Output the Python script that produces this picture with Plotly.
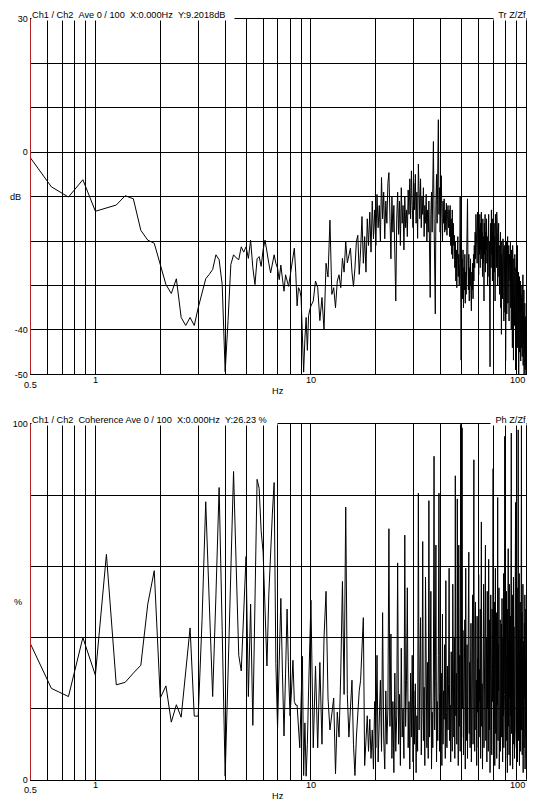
import numpy as np
import plotly.graph_objects as go

# frequency bins (Hz): fine below 10 Hz, coarser above
freq_low = np.arange(0.5, 10.0001, 0.125)
freq_high = np.arange(10.25, 100.0001, 0.25)

# transfer function magnitude, dB
tf_low = [
    -1.3, -7.8, -10.1, -6.2, -13.3, -12.6, -11.9, -9.8,
    -10.5, -17.6, -19.8, -20.5, -25.5, -29.8, -31.8, -28.5,
    -37.2, -39.0, -37.2, -39.0, -35.0, -31.5, -28.5, -27.5,
    -26.4, -23.1, -24.2, -29.8, -49.4, -37.9, -25.3, -23.1,
    -23.8, -24.2, -21.3, -22.5, -21.3, -23.9, -19.8, -26.0,
    -29.8, -24.0, -23.5, -25.7, -22.0, -19.8, -23.1, -25.0,
    -27.2, -25.0, -23.1, -25.0, -26.1, -28.7, -25.4, -28.5,
    -31.3, -27.6, -29.0, -30.2, -28.0, -25.4, -23.5, -21.6,
    -27.0, -34.6, -30.5, -31.0, -32.7, -40.0, -49.5, -42.0,
    -37.2, -44.6, -36.8, -35.5, -34.6,
]
tf_high = [
    -33.5, -29.0, -30.5, -37.9, -32.7, -40.0, -25.0, -28.1, -15.3, -32.0, -30.5, -35.0, -29.0, -27.6, -30.5, -23.9, -27.0, -20.1, -24.9, -23.0,
    -21.6, -27.0, -30.2, -26.1, -20.1, -18.7, -27.5, -22.0, -14.5, -25.0, -19.0, -27.0, -15.0, -21.0, -13.5, -22.5, -11.0, -19.5, -13.0, -21.0,
    -9.5, -17.0, -12.0, -20.0, -5.7, -15.0, -9.0, -19.5, -11.0, -16.0, -7.0, -4.6, -14.0, -24.0, -10.0, -18.0, -12.0, -26.0, -33.5, -15.0,
    -9.0, -18.5, -11.0, -21.0, -8.0, -16.0, -12.0, -22.0, -10.0, -17.0, -13.0, -19.0, -8.5, -14.0, -6.0, -15.0, -4.2, -12.0, -17.0, -7.0,
    -13.0, -5.0, -16.0, -9.0, -19.4, -2.7, -11.0, -15.0, -6.0, -17.0, -10.0, -14.0, -8.0, -19.0, -12.0, -16.0, -9.5, -20.0, -13.0, -18.0,
    -11.0, -22.0, -32.7, -14.0, -9.0, -18.0, -6.0, 2.4, -15.0, -24.0, -36.4, -12.0, -5.0, -16.0, -2.0, 7.3, -14.0, -8.0, -18.0, -10.0,
    -5.3, -15.0, -20.0, -11.0, -16.0, -10.5, -18.0, -13.0, -17.5, -11.5, -18.7, -14.0, -12.0, -17.0, -13.0, -19.0, -12.0, -21.0, -15.0, -23.0,
    -13.0, -24.0, -16.0, -21.0, -18.7, -26.0, -20.0, -29.0, -22.0, -30.5, -24.0, -19.0, -28.0, -23.0, -30.0, -25.0, -10.0, -27.0, -46.8, -30.0,
    -24.0, -33.0, -22.0, -35.0, -26.0, -31.0, -23.0, -34.0, -27.0, -32.0, -24.0, -29.0, -10.5, -25.0, -31.0, -23.0, -33.5, -26.0, -30.0, -24.0,
    -32.0, -35.7, -27.0, -31.0, -25.0, -33.0, -23.0, -29.0, -21.0, -26.0, -18.0, -24.0, -14.0, -22.0, -16.0, -25.0, -13.5, -21.0, -15.0, -27.6,
    -17.0, -23.0, -14.0, -26.0, -16.0, -22.0, -13.5, -24.0, -18.0, -28.0, -15.0, -25.0, -19.0, -33.5, -16.0, -23.0, -14.0, -27.0, -18.0, -22.0,
    -15.0, -25.0, -19.0, -30.0, -17.0, -24.0, -14.0, -28.0, -20.0, -36.0, -48.3, -22.0, -16.0, -26.0, -13.0, -23.0, -18.0, -29.0, -15.0, -24.0,
    -12.7, -21.0, -16.0, -27.0, -19.0, -33.5, -14.0, -24.0, -18.0, -26.0, -13.5, -22.0, -17.0, -30.0, -20.0, -25.0, -16.0, -28.0, -21.0, -32.0,
    -19.0, -27.0, -18.0, -35.0, -23.0, -41.0, -20.0, -30.0, -24.0, -33.0, -19.5, -28.0, -22.0, -38.0, -25.0, -31.0, -21.0, -36.0, -26.0, -47.0,
    -24.0, -30.0, -20.0, -36.4, -22.0, -29.0, -19.0, -34.0, -25.0, -31.0, -21.0, -38.0, -23.0, -33.0, -26.0, -29.0, -20.0, -35.0, -24.0, -40.0,
    -22.0, -33.0, -26.0, -44.0, -21.0, -36.0, -28.0, -46.8, -24.0, -34.0, -27.0, -39.0, -23.0, -37.0, -30.0, -49.0, -26.0, -35.0, -29.0, -42.0,
    -25.0, -38.0, -21.0, -44.0, -30.0, -36.0, -27.0, -50.0, -31.0, -40.0, -28.0, -45.0, -33.0, -38.0, -29.0, -47.0, -32.0, -41.0, -34.0, -44.0,
    -30.0, -46.0, -33.0, -39.0, -27.6, -48.0, -36.0, -43.0, -31.0, -50.0, -38.0, -45.0, -34.0, -49.0, -37.0, -47.0, -40.0, -50.0, -42.0, -48.0,
]

# coherence, %
coh_low = [
    38.2, 25.7, 23.4, 40.0, 29.4, 63.4, 26.7, 27.4,
    30.0, 32.2, 49.4, 58.8, 23.0, 26.4, 16.2, 21.1,
    17.6, 30.0, 42.7, 17.9, 17.9, 45.0, 78.2, 50.0,
    23.4, 52.0, 82.2, 42.0, 1.0, 30.0, 60.0, 86.7,
    60.0, 35.0, 30.6, 45.0, 62.8, 23.4, 49.4, 15.3,
    50.0, 84.5, 82.0, 70.0, 64.0, 45.0, 32.0, 52.0,
    65.0, 75.0, 83.6, 32.7, 14.6, 35.0, 51.0, 30.0,
    12.3, 30.0, 48.0, 30.0, 18.0, 25.0, 33.6, 22.0,
    21.0, 21.0, 15.0, 9.0, 22.0, 34.7, 1.2, 16.0,
    1.0, 10.0, 25.0, 38.0, 50.5,
]
coh_high = [
    9, 32, 9, 33, 10, 40, 53, 23, 14, 18, 23, 1.7, 19, 12, 30, 55.8, 24, 76.7, 24, 12,
    20, 28, 10, 1.2, 12, 20, 25, 28, 35, 45.6, 4, 12, 18, 8, 17, 6, 14, 3, 22, 9,
    35, 5, 18, 28, 8, 47, 12, 3, 25, 10, 20, 70.6, 15, 41, 6, 22, 2, 30, 8, 18,
    61, 10, 24, 4, 37, 12, 20, 6, 68.8, 15, 28, 54, 9, 22, 3, 30, 12, 35, 5, 25,
    10, 27, 2, 18, 8, 80.6, 14, 30, 45.6, 7, 20, 67, 11, 26, 4, 57, 16, 9, 33, 6,
    78.5, 12, 25, 53, 3, 19, 9, 30, 91, 14, 28, 66, 5, 22, 11, 35, 80.6, 8, 24, 13,
    30, 4, 46.6, 10, 25, 17, 38, 6, 56, 19, 9, 32, 14, 27, 59.5, 11, 21, 5, 36, 16,
    8, 55, 22, 12, 40, 6, 85.5, 18, 30, 10, 79, 24, 4, 66, 15, 35, 8, 100, 28, 12,
    99, 20, 42, 7, 31, 16, 45, 3, 59.5, 21, 11, 38, 6, 27, 48, 64, 13, 33, 9, 25,
    44, 5, 29, 17, 52, 10, 36, 90, 20, 8, 41, 50, 14, 28, 4, 46, 19, 34, 9, 57.7,
    12, 31, 22, 48, 6, 38, 72.5, 15, 27, 3, 44, 18, 55, 9, 33, 24, 50, 66, 11, 29,
    40, 5, 53, 20, 35, 8, 62, 26, 14, 45, 2, 31, 52, 17, 39, 7, 48, 22, 30, 87.5,
    10, 36, 19, 50, 4, 42, 59.5, 13, 28, 47, 6, 34, 21, 79.4, 11, 38, 25, 54, 3, 30,
    16, 45, 8, 37, 22, 43.8, 12, 51, 27, 5, 40, 18, 58, 9, 33, 24, 96.6, 14, 37, 6,
    44, 20, 53, 11, 35, 2, 48, 26, 65, 15, 39, 7, 55, 23, 31, 4, 46, 18, 60, 97.5,
    13, 41, 25, 52, 3, 36, 19, 57, 10, 43, 28, 6, 49, 21, 62, 78, 15, 38, 9, 45,
    24, 54, 5, 33, 17, 98.4, 11, 42, 27, 58, 4, 36, 20, 50, 8, 40, 26, 63, 100, 14,
    47, 7, 35, 21, 55, 2, 39, 16, 29, 9, 44, 23, 52, 3, 34, 12, 48, 28, 6, 36,
]

assert len(tf_low) == len(freq_low) == len(coh_low)
assert len(tf_high) == len(freq_high) == len(coh_high)

freq = np.concatenate([freq_low, freq_high])
tf_db = tf_low + tf_high
coherence = coh_low + coh_high

grid_freqs = [0.6, 0.7, 0.8, 0.9, 1, 2, 3, 4, 5, 6, 7, 8, 9,
              10, 20, 30, 40, 50, 60, 70, 80, 90, 100]

W, H = 535, 805
FONT = "Liberation Sans, Arial, sans-serif"
RED = "#b22222"


def py(px):
    # pixel row -> paper y
    return 1 - px / H


def px_x(px):
    return px / W


fig = go.Figure()
fig.add_trace(go.Scatter(x=freq, y=tf_db, mode="lines",
                         line=dict(color="black", width=1),
                         xaxis="x", yaxis="y", hoverinfo="skip"))
fig.add_trace(go.Scatter(x=freq, y=coherence, mode="lines",
                         line=dict(color="black", width=1),
                         xaxis="x2", yaxis="y2", hoverinfo="skip"))

xdom = [px_x(30.5), px_x(526.5)]
xcommon = dict(type="log", range=[np.log10(0.5), 2], domain=xdom,
               tickvals=grid_freqs, showticklabels=False, ticks="",
               showgrid=True, gridcolor="black", gridwidth=1,
               showline=True, linecolor="black", linewidth=1, mirror=True,
               zeroline=False, fixedrange=True)
ycommon = dict(showgrid=True, gridcolor="black", gridwidth=1,
               showline=True, linecolor=RED, linewidth=1, ticks="",
               zeroline=False, fixedrange=True,
               tickfont=dict(family=FONT, size=9, color="black"))

fig.update_layout(
    width=W, height=H,
    margin=dict(l=0, r=0, t=0, b=0),
    paper_bgcolor="white", plot_bgcolor="white",
    showlegend=False,
    xaxis=dict(xcommon, anchor="y"),
    xaxis2=dict(xcommon, anchor="y2"),
    yaxis=dict(ycommon, anchor="x", domain=[py(374), py(14)], range=[-50, 30],
               tickvals=[30, 20, 10, 0, -10, -20, -30, -40, -50],
               ticktext=["30", "", "", "0", "", "", "", "-40", "-50"]),
    yaxis2=dict(ycommon, anchor="x2", domain=[py(784.5), py(424.5)], range=[0, 100],
                tickvals=[0, 20, 40, 60, 80, 100],
                ticktext=["0", "", "", "", "", "100"]),
)

# right-hand frame edges
for xr, yr in (("x domain", "y domain"), ("x2 domain", "y2 domain")):
    fig.add_shape(type="line", xref=xr, yref=yr, x0=1, x1=1, y0=0, y1=1,
                  line=dict(color="black", width=1))

NB = "\u00a0"
f9 = dict(family=FONT, size=9.2, color="black")
ann = []
# panel headers (white boxes interrupt the top frame line)
ann.append(dict(text=f"Ch1 / Ch2{NB}{NB}Ave 0 / 100{NB}{NB}X:0.000Hz{NB}{NB}Y:9.2018dB",
                x=px_x(30.5), y=py(9.5), xanchor="left", yanchor="middle",
                width=202, height=11, align="left"))
ann.append(dict(text="Tr Z/Zf", x=px_x(527), y=py(9.5), xanchor="right",
                yanchor="middle", width=32, height=11, align="right"))
ann.append(dict(text=f"Ch1 / Ch2{NB}{NB}Coherence Ave 0 / 100{NB}{NB}X:0.000Hz{NB}{NB}Y:26.23 %",
                x=px_x(30.5), y=py(419.5), xanchor="left", yanchor="middle",
                width=245, height=11, align="left"))
ann.append(dict(text="Ph Z/Zf", x=px_x(527), y=py(419.5), xanchor="right",
                yanchor="middle", width=35, height=11, align="right"))
for a in ann:
    a.update(xref="paper", yref="paper", showarrow=False, bgcolor="white",
             borderpad=0, font=f9)

# axis unit labels
for txt, xp, yp in (("dB", 15.5, 194.3), ("%", 18, 604.5)):
    ann.append(dict(text=txt, x=px_x(xp), y=py(yp), xref="paper", yref="paper",
                    showarrow=False, font=f9, xanchor="center", yanchor="middle"))

# frequency tick labels
for xa, ybase in (("x", 374), ("x2", 784.5)):
    ann.append(dict(text="0.5", x=np.log10(0.5), y=py(ybase + 10.5), xref=xa, yref="paper",
                    showarrow=False, font=f9, xanchor="center", yanchor="middle"))
    for v in (1, 10):
        ann.append(dict(text=str(v), x=np.log10(v), y=py(ybase + 5.5), xref=xa, yref="paper",
                        showarrow=False, font=f9, xanchor="center", yanchor="middle"))
    ann.append(dict(text="100", x=2, y=py(ybase + 5.5), xref=xa, yref="paper",
                    showarrow=False, font=f9, xanchor="right", yanchor="middle"))
    ann.append(dict(text="Hz", x=px_x(278), y=py(ybase + 16.5), xref="paper", yref="paper",
                    showarrow=False, font=f9, xanchor="center", yanchor="middle"))

fig.update_layout(annotations=ann)

# the page's default body margin would push the 535x805 figure off-window
fig.write_html("out.html", config={"displayModeBar": False},
               post_script="document.body.style.margin = '0px';")
